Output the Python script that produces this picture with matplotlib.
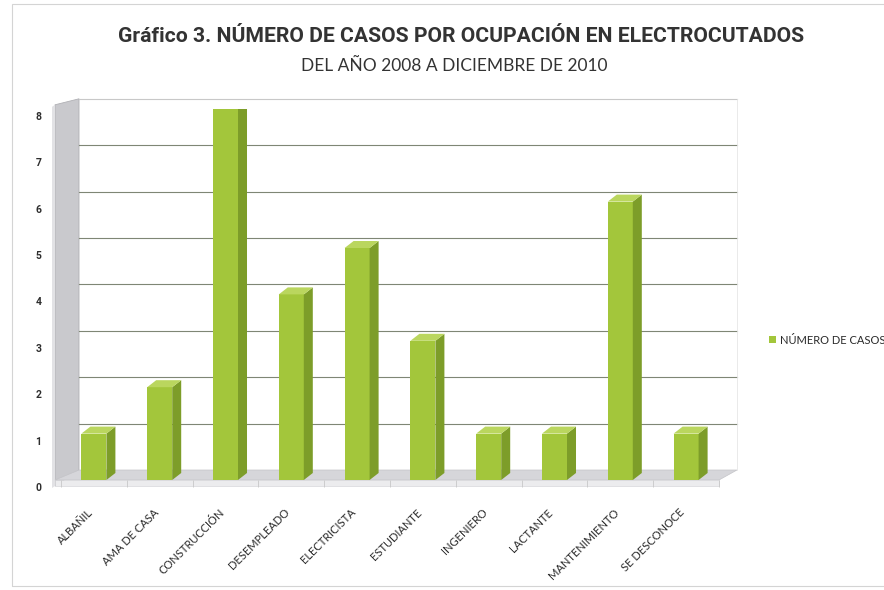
import numpy as np
import matplotlib.pyplot as plt
from matplotlib.patches import Polygon, Rectangle
from matplotlib.transforms import ScaledTranslation

plt.rcParams['font.family'] = ['Lato', 'DejaVu Sans']

ocupaciones = ['ALBAÑIL', 'AMA DE CASA', 'CONSTRUCCIÓN', 'DESEMPLEADO', 'ELECTRICISTA',
               'ESTUDIANTE', 'INGENIERO', 'LACTANTE', 'MANTENIMIENTO', 'SE DESCONOCE']
casos = [1, 2, 8, 4, 5, 3, 1, 1, 6, 1]
y_ticks = [0, 1, 2, 3, 4, 5, 6, 7, 8]
serie = 'NÚMERO DE CASOS'

titulo = 'Gráfico 3. NÚMERO DE CASOS POR OCUPACIÓN EN ELECTROCUTADOS'
subtitulo = 'DEL AÑO 2008 A DICIEMBRE DE 2010'

verde = '#a3c63b'
verde_lado = '#7d9d29'
verde_tapa = '#bad65e'

W, H, DPI = 884, 590, 100
fig = plt.figure(figsize=(W / DPI, H / DPI), dpi=DPI)

# axes in pixels: x 61..719, y 480 (0) .. 108.8 (8)
ax_l, ax_r, ax_b, ax_t = 61, 719, 480, 108.8
ax = fig.add_axes([ax_l / W, (H - ax_b) / H, (ax_r - ax_l) / W, (ax_b - ax_t) / H])
ax.set_xlim(-0.5, len(ocupaciones) - 0.5)
ax.set_ylim(0, max(y_ticks))
ax.patch.set_visible(False)
for s in ax.spines.values():
    s.set_visible(False)

# pixel -> data conversion for the fake 3d depth
px_x = (len(ocupaciones)) / (ax_r - ax_l)
px_y = max(y_ticks) / (ax_b - ax_t)
x0, x1 = -0.5, len(ocupaciones) - 0.5
ytop = max(y_ticks)

# back wall offset
bx, by = 18 * px_x, 10 * px_y
# front edge offset
fx, fy = -6 * px_x, -6 * px_y

# left wall
wall = Polygon([(x0 + fx, fy), (x0 + fx, ytop + 4 * px_y), (x0 + bx, ytop + by), (x0 + bx, by)],
               closed=True, facecolor='#c9c9cd', edgecolor='#b0b0b4', lw=0.6, clip_on=False, zorder=1)
ax.add_patch(wall)
wall_front = Polygon([(x0 + fx - 3 * px_x, fy - 2 * px_y), (x0 + fx - 3 * px_x, ytop + 2 * px_y),
                      (x0 + fx, ytop + 4 * px_y), (x0 + fx, fy)],
                     closed=True, facecolor='#e2e2e5', edgecolor='none', clip_on=False, zorder=1)
ax.add_patch(wall_front)

# floor
floor = Polygon([(x0 + fx, 0), (x1, 0), (x1 + bx, by), (x0 + bx, by)],
                closed=True, facecolor='#d6d6da', edgecolor='#c4c4c8', lw=0.5, clip_on=False, zorder=1)
ax.add_patch(floor)
slab = Polygon([(x0 + fx, fy), (x1, fy), (x1, 0), (x0 + fx, 0)],
               closed=True, facecolor='#ececee', edgecolor='#d0d0d4', lw=0.4, clip_on=False, zorder=1)
ax.add_patch(slab)

# gridlines on back wall
for v in y_ticks[1:]:
    col = '#c8c8c8' if v == ytop else '#7f8675'
    ax.plot([x0 + bx, x1 + bx], [v + by, v + by], color=col, lw=0.8, zorder=2, clip_on=False)
ax.plot([x1 + bx, x1 + bx], [by, ytop + by], color='#e6e6e6', lw=0.6, zorder=2, clip_on=False)

# bars
x = np.arange(len(ocupaciones))
w = 0.38
dx, dy = 9 * px_x, 7 * px_y
bars = ax.bar(x, casos, width=w, color=verde, zorder=3, label=serie)
for xi, v in zip(x, casos):
    r = xi + w / 2
    l = xi - w / 2
    ax.add_patch(Polygon([(r, 0), (r + dx, dy), (r + dx, v + dy), (r, v)],
                         closed=True, facecolor=verde_lado, edgecolor='none', zorder=3))
    ax.add_patch(Polygon([(l, v), (r, v), (r + dx, v + dy), (l + dx, v + dy)],
                         closed=True, facecolor=verde_tapa, edgecolor='none', zorder=3))

# y ticks
ax.set_yticks(y_ticks)
ax.tick_params(axis='y', length=0, pad=14, labelsize=7.5, labelcolor='#2e2e2e')
for lab in ax.get_yticklabels():
    lab.set_fontfamily('Roboto')
    lab.set_fontweight('bold')
    lab.set_transform(lab.get_transform() + ScaledTranslation(0, -7 / DPI, fig.dpi_scale_trans))

# x ticks
ax.set_xticks(x)
ax.set_xticklabels(ocupaciones, rotation=45, ha='right', va='center', rotation_mode='anchor',
                   fontsize=8, color='#2a2a2a')
ax.set_xticks(np.arange(len(ocupaciones) + 1) - 0.5, minor=True)
ax.tick_params(axis='x', which='major', length=0, pad=22)
ax.tick_params(axis='x', which='minor', length=5, color='#c8c8c8', width=0.6)
for lab in ax.get_xticklabels():
    lab.set_transform(lab.get_transform() + ScaledTranslation(-3 / DPI, 0, fig.dpi_scale_trans))

# legend
fig.legend(handles=[bars], labels=[serie], loc='center left', bbox_to_anchor=(765 / W, 1 - 340 / H),
           frameon=False, fontsize=8, handlelength=0.6, handleheight=0.6, handletextpad=0.35,
           borderaxespad=0, labelcolor='#2a2a2a')

# titles
fig.text(461 / W, 1 - 36 / H, titulo, ha='center', va='center', fontsize=15.2,
         fontweight='bold', fontfamily='Roboto', color='#333333')
fig.text(454 / W, 1 - 66 / H, subtitulo, ha='center', va='center', fontsize=12.5, color='#333333')

# chart border
fig.add_artist(Rectangle((12 / W, 4 / H), 1.1, 582 / H, transform=fig.transFigure,
                         facecolor='none', edgecolor='#d4d4d4', lw=0.8))

plt.savefig('out.png', dpi=DPI)
